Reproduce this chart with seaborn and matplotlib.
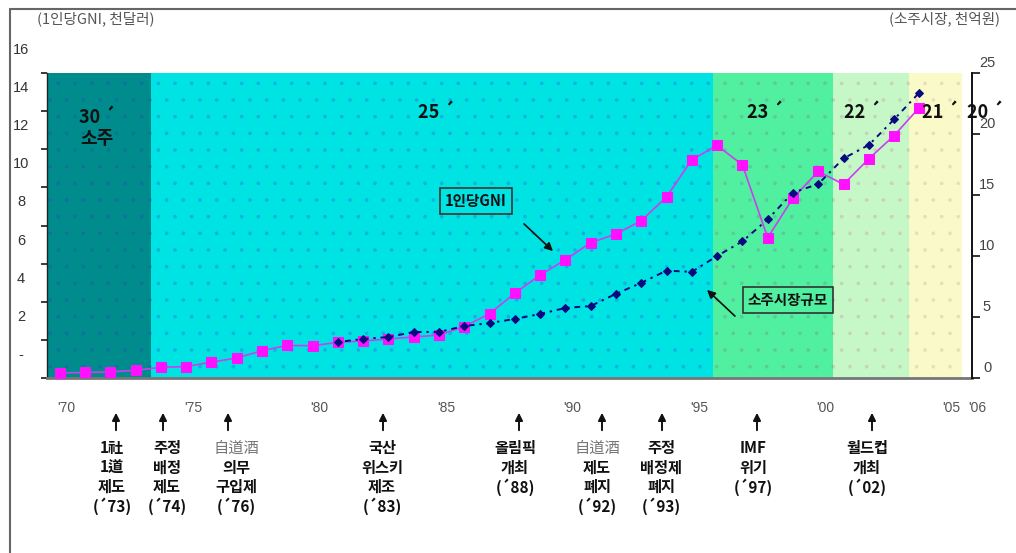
import numpy as np
import matplotlib
matplotlib.use("Agg")
import matplotlib.pyplot as plt
import seaborn as sns
from matplotlib.lines import Line2D

# ---- data -------------------------------------------------------------
gni_years = list(range(1970, 2005))
# GNI per capita, thousand USD
gni_per_capita = [0.26, 0.29, 0.32, 0.40, 0.56, 0.60, 0.83, 1.05, 1.43, 1.71,
                  1.69, 1.87, 1.94, 2.05, 2.15, 2.25, 2.70, 3.37, 4.45, 5.40,
                  6.20, 7.10, 7.55, 8.25, 9.50, 11.45, 12.20, 11.18, 7.36, 9.44,
                  10.84, 10.16, 11.50, 12.72, 14.19]

soju_years = list(range(1981, 2005))
# soju market size, 100 billion KRW
soju_market = [2.95, 3.20, 3.36, 3.77, 3.77, 4.26, 4.50, 4.84, 5.25, 5.74,
               5.90, 6.90, 7.80, 8.80, 8.70, 10.00, 11.20, 13.00, 15.20, 15.90,
               18.00, 19.10, 21.20, 23.40]

# alcohol strength periods (degrees)
period_labels = ["30 ´\n소주", "25 ´", "23 ´", "22 ´", "21 ´", "20 ´"]
period_starts = [1969.5, 1973.6, 1995.85, 2000.6, 2003.6]
period_ends = [1973.6, 1995.85, 2000.6, 2003.6, 2005.7]

x_label_years = [1970, 1975, 1980, 1985, 1990, 1995, 2000, 2005, 2006]
x_labels = ["'70", "'75", "'80", "'85", "'90", "'95", "'00", "'05", "'06"]
left_ticks = [0, 2, 4, 6, 8, 10, 12, 14, 16]
left_tick_labels = ["-", "2", "4", "6", "8", "10", "12", "14", "16"]
right_ticks = [0, 5, 10, 15, 20, 25]

event_lines = [
    ["1社", "1道", "제도", "(´73)"],
    ["주정", "배정", "제도", "(´74)"],
    ["自道酒", "의무", "구입제", "(´76)"],
    ["국산", "위스키", "제조", "(´83)"],
    ["올림픽", "개최", "(´88)"],
    ["自道酒", "제도", "폐지", "(´92)"],
    ["주정", "배정제", "폐지", "(´93)"],
    ["IMF", "위기", "(´97)"],
    ["월드컵", "개최", "(´02)"],
]

# ---- layout / style ---------------------------------------------------
W, H = 1016, 553
band_colors = ["#008c8c", "#00e3e3", "#50f0a0", "#c6f7c6", "#fafac8"]
band_dots = ["#2050b060", "#2a6ad860", "#70909060", "#c0a0a060", "#d0b0b060"]
period_label_px = [(97, 128), (436, 113), (765, 113), (862, 113), (940, 113), (985, 113)]
event_arrow_px = [116, 163, 228, 383, 519, 602, 662, 757, 872]
event_text_px = [112, 167, 236, 382, 515, 597, 661, 753, 867]

sns.set_theme(style="white")
plt.rcParams["font.family"] = ["Noto Sans CJK KR", "DejaVu Sans"]
plt.rcParams["hatch.linewidth"] = 0.2

fig = plt.figure(figsize=(W / 100, H / 100), dpi=100)
fig.patch.set_facecolor("white")
ax = fig.add_axes([47 / W, 1 - 378 / H, (972 - 47) / W, 305 / H])
ax2 = ax.twinx()

ax.set_xlim(1969.5, 2006.08)
ax.set_ylim(0, 16)
ax2.set_ylim(0, 25)


def fp(x, y):
    """pixel position measured from the top-left corner -> figure pixels"""
    return (x, H - y)


# background bands
for s, e, c, dc in zip(period_starts, period_ends, band_colors, band_dots):
    ax.axvspan(s, e, facecolor=c, edgecolor=dc, linewidth=0, hatch=".", zorder=0)

for lab, (px, py) in zip(period_labels, period_label_px):
    ax.annotate(lab, xy=fp(px, py), xycoords="figure pixels", ha="center", va="center",
                fontsize=13, fontweight="bold", color="#111111", linespacing=1.1,
                annotation_clip=False, zorder=5)

# series
sns.lineplot(x=gni_years, y=gni_per_capita, ax=ax, color="#c840f0", linewidth=1.2,
             marker="s", markersize=6.5, markerfacecolor="#ff10ff",
             markeredgecolor="#ff10ff", zorder=4)
sns.lineplot(x=soju_years, y=soju_market, ax=ax2, color="#0a0a80", linewidth=1.4,
             linestyle=(0, (1.2, 2.5, 3.0, 2.5)), marker="D", markersize=4.5,
             markerfacecolor="#0a0a80", markeredgecolor="#0a0a80", zorder=4)
ax.set_xlabel("")
ax.set_ylabel("")
ax2.set_xlabel("")
ax2.set_ylabel("")

# axes styling
for a in (ax, ax2):
    a.grid(False)
    a.spines["top"].set_visible(False)
ax2.patch.set_visible(False)
ax.spines["right"].set_visible(False)
ax.spines["left"].set_color("#222222")
ax.spines["left"].set_linewidth(1.0)
ax.spines["bottom"].set_color("#777777")
ax.spines["bottom"].set_linewidth(2.0)
ax2.spines["left"].set_visible(False)
ax2.spines["bottom"].set_visible(False)
ax2.spines["right"].set_color("#111111")
ax2.spines["right"].set_linewidth(1.4)

ax.set_xticks(x_label_years)
ax.set_xticklabels([])
ax.tick_params(axis="x", which="major", length=0)
ax.set_xticks(np.arange(1969.5, 2006.5, 1.0), minor=True)
ax.tick_params(axis="x", which="minor", length=5, direction="inout", color="#222222", width=1)
for yr, lab in zip(x_label_years, x_labels):
    ax.annotate(lab, xy=(yr, 0), xycoords=("data", "axes fraction"), xytext=(7, -30),
                textcoords="offset pixels", ha="center", va="center", fontsize=10,
                color="#555555", family="Liberation Sans", annotation_clip=False)

ax.set_yticks(left_ticks)
ax.set_yticklabels([])
ax.tick_params(axis="y", which="major", left=True, length=4, direction="out", color="#222222")
for v, lab in zip(left_ticks, left_tick_labels):
    ax.annotate(lab, xy=(0, v), xycoords=("axes fraction", "data"), xytext=(-26, 23),
                textcoords="offset pixels", ha="center", va="center", fontsize=10.5,
                color="#333333", family="Liberation Sans", annotation_clip=False)

ax2.set_yticks(right_ticks)
ax2.set_yticklabels([])
ax2.tick_params(axis="y", right=True, length=6, direction="out", color="#111111", width=1.2)
for v in right_ticks:
    ax2.annotate(str(v), xy=(1, v), xycoords=("axes fraction", "data"), xytext=(15, 10),
                 textcoords="offset pixels", ha="center", va="center", fontsize=10.5,
                 color="#444444", family="Liberation Sans", annotation_clip=False)

# unit captions
fig.text(37 / W, 1 - 19 / H, "(1인당GNI, 천달러)", fontsize=10.5, color="#555555",
         ha="left", va="center")
fig.text(1000 / W, 1 - 19 / H, "(소주시장, 천억원)", fontsize=10.5, color="#555555",
         ha="right", va="center")

# series call-outs
ax.annotate("1인당GNI", xy=fp(476, 201), xycoords="figure pixels", ha="center", va="center",
            fontsize=10.5, fontweight="bold", color="#111111",
            bbox=dict(boxstyle="square,pad=0.35", fc="none", ec="#333333", lw=1.2), zorder=6)
ax.annotate("", xy=fp(555, 253), xycoords="figure pixels", xytext=fp(522, 222),
            textcoords="figure pixels",
            arrowprops=dict(arrowstyle="-|>", color="#111111", lw=1.2, mutation_scale=12),
            zorder=6)
ax.annotate("소주시장규모", xy=fp(788, 300), xycoords="figure pixels", ha="center", va="center",
            fontsize=10.5, fontweight="bold", color="#111111",
            bbox=dict(boxstyle="square,pad=0.35", fc="none", ec="#333333", lw=1.2), zorder=6)
ax.annotate("", xy=fp(705, 288), xycoords="figure pixels", xytext=fp(737, 318),
            textcoords="figure pixels",
            arrowprops=dict(arrowstyle="-|>", color="#111111", lw=1.2, mutation_scale=12),
            zorder=6)

# policy / event notes under the time axis
for lines, apx, tpx in zip(event_lines, event_arrow_px, event_text_px):
    ax.annotate("", xy=fp(apx, 410), xycoords="figure pixels", xytext=fp(apx, 433),
                textcoords="figure pixels",
                arrowprops=dict(arrowstyle="-|>", color="#111111", lw=1.4, mutation_scale=11),
                annotation_clip=False)
    for i, t in enumerate(lines):
        hanja = t == "自道酒"
        ax.annotate(t, xy=fp(tpx, 448 + 19.5 * i), xycoords="figure pixels",
                    ha="center", va="center", fontsize=11,
                    fontweight="normal" if hanja else "bold",
                    color="#777777" if hanja else "#111111",
                    annotation_clip=False)

# outer frame
fig.add_artist(Line2D([10 / W, 1], [1 - 9 / H, 1 - 9 / H], transform=fig.transFigure,
                      color="#666666", lw=1.5))
fig.add_artist(Line2D([10 / W, 10 / W], [0, 1 - 9 / H], transform=fig.transFigure,
                      color="#666666", lw=1.5))

fig.savefig("out.png", dpi=100)
